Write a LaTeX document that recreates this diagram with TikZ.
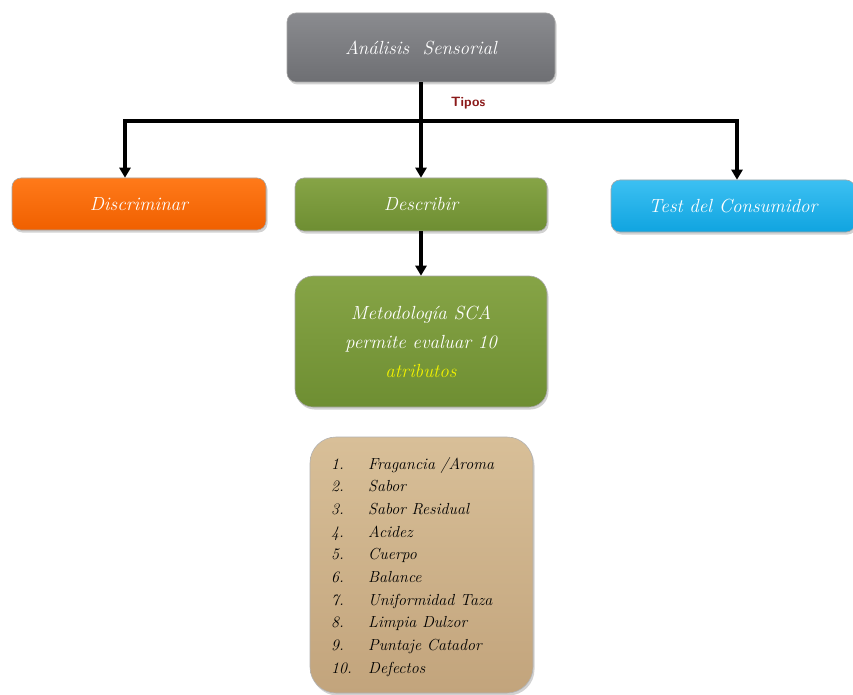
\documentclass[tikz,border=0pt]{standalone}
\usepackage{fontspec}
\usetikzlibrary{arrows.meta,shadows,positioning}
\definecolor{boxgray}{HTML}{6E6F73}
\definecolor{boxgraytop}{HTML}{8A8B8F}
\definecolor{boxorange}{HTML}{F06000}
\definecolor{boxorangetop}{HTML}{FF7A1A}
\definecolor{boxgreen}{HTML}{6E8E32}
\definecolor{boxgreentop}{HTML}{86A446}
\definecolor{boxblue}{HTML}{10A4E0}
\definecolor{boxbluetop}{HTML}{3CC0F2}
\definecolor{boxtan}{HTML}{C2A47C}
\definecolor{boxtantop}{HTML}{D8BF98}
\definecolor{tiposred}{HTML}{8B1A1A}
\definecolor{attryellow}{HTML}{F2F200}
\tikzset{
  card/.style={rounded corners=9pt, draw=black!35, line width=0.6pt,
    drop shadow={shadow xshift=1.5pt, shadow yshift=-2.5pt, opacity=0.35},
    text=white, font=\fontsize{19}{24}\selectfont\itshape, align=center,
    inner sep=0pt},
  listtext/.style={anchor=base west, font=\fontsize{16}{18}\selectfont\itshape, inner sep=0pt},
  link/.style={line width=3.5pt},
  arrowlink/.style={line width=3.5pt, -{Triangle[length=10pt,width=11pt]}}
}
\begin{document}
\begin{tikzpicture}[x=1pt,y=-1pt]
\useasboundingbox (0,0) rectangle (853,695);
\fill[white] (0,0) rectangle (853,695);

% top node
\node[card, top color=boxgraytop, bottom color=boxgray, minimum width=268pt, minimum height=69pt]
  (analisis) at (421,47.5) {Análisis\ \ Sensorial};

% second row
\node[card, top color=boxorangetop, bottom color=boxorange, minimum width=254pt, minimum height=52pt]
  (discr) at (139,204) {Discriminar};
\node[card, top color=boxgreentop, bottom color=boxgreen, minimum width=252pt, minimum height=53pt]
  (descr) at (421,204.5) {Describir};
\node[card, top color=boxbluetop, bottom color=boxblue, minimum width=244pt, minimum height=52pt]
  (test) at (733,206) {Test del Consumidor};

% methodology box
\node[card, rounded corners=18pt, top color=boxgreentop, bottom color=boxgreen,
  minimum width=252pt, minimum height=131pt, font=\fontsize{19}{29}\selectfont\itshape]
  (sca) at (421,341.5) {Metodología SCA\\permite evaluar 10\\\textcolor{attryellow}{atributos}};

% attribute list
\node[card, rounded corners=26pt, top color=boxtantop, bottom color=boxtan, draw=black!30,
  minimum width=223pt, minimum height=256pt, text=black]
  (lista) at (421.5,565) {};
\foreach \n/\t [count=\i from 0] in {1./{Fragancia /Aroma}, 2./Sabor, 3./Sabor Residual, 4./Acidez,
  5./Cuerpo, 6./Balance, 7./Uniformidad Taza, 8./Limpia Dulzor, 9./Puntaje Catador, 10./Defectos}{
  \node[listtext] (num\i) at (331,469+22.7*\i) {\n};
  \node[listtext] (item\i) at (368,469+22.7*\i) {\t};
}

% connectors
\coordinate (split) at (421,121);
\coordinate (leftend) at (125,121);
\coordinate (rightend) at (737,121);
\draw[link] (analisis.south) -- (split);
\draw[link] ([xshift=-1.75pt]leftend) -- ([xshift=1.75pt]rightend);
\draw[arrowlink] (leftend) -- (leftend |- discr.north);
\draw[arrowlink] (split) -- (descr.north);
\draw[arrowlink] (rightend) -- (rightend |- test.north);
\draw[arrowlink] (descr.south) -- (sca.north);

\node[font=\sffamily\bfseries\fontsize{13.5}{15}\selectfont, text=tiposred] (tipos) at (468,103) {Tipos};
\end{tikzpicture}
\end{document}
